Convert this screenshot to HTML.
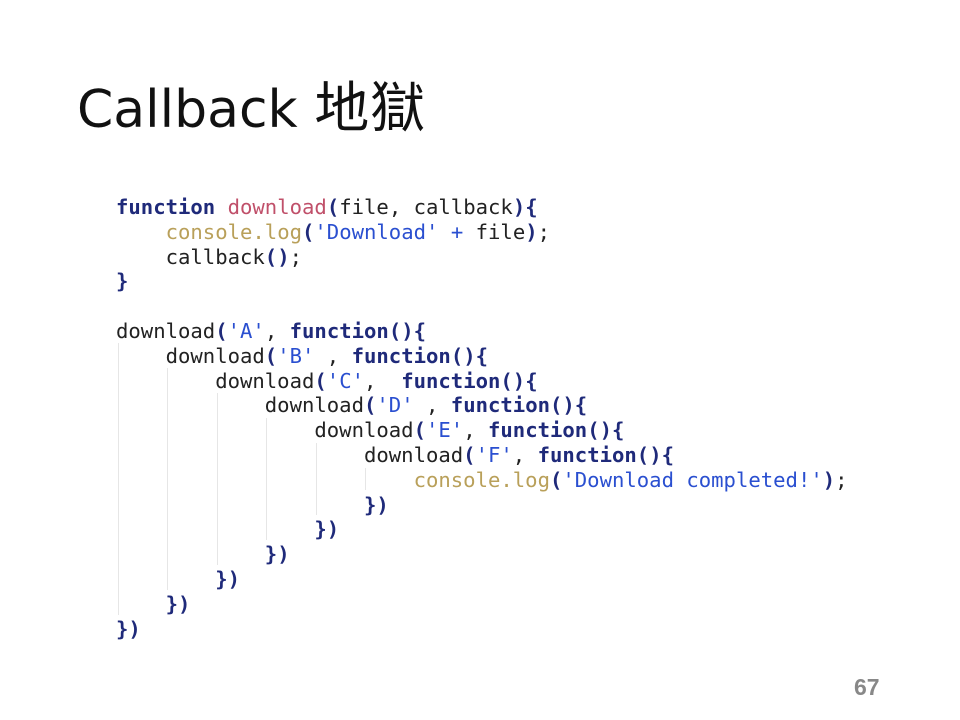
<!DOCTYPE html>
<html><head><meta charset="utf-8"><style>
body{margin:0;width:960px;height:720px;background:#fff;position:relative;overflow:hidden}
.t{position:absolute;left:77px;top:77px;height:52px;font:52px/52px "DejaVu Sans","Noto Sans CJK TC",sans-serif;color:#111;white-space:nowrap}
.t span{font-family:"Noto Sans CJK TC",sans-serif;font-weight:400;font-size:55px;letter-spacing:1px}
.code{position:absolute;left:116px;top:195px;font:20.6px/24.8px "DejaVu Sans Mono",monospace;color:#222;white-space:pre}
.k{color:#1f2a7a;font-weight:bold}.f{color:#c0506a}.c{color:#b9a05a}.s{color:#2a4fd0}.p{color:#1f2a7a;font-weight:bold}
.g{position:absolute;width:1px;background:#e6e6e6}
.n{position:absolute;left:854px;top:674px;font:bold 23px "Liberation Sans",sans-serif;color:#888}
</style></head><body>
<div class="t">Callback <span>地獄</span></div>
<div class="g" style="left:118px;top:343px;height:272px"></div>
<div class="g" style="left:167px;top:368px;height:222px"></div>
<div class="g" style="left:217px;top:393px;height:172px"></div>
<div class="g" style="left:266px;top:418px;height:122px"></div>
<div class="g" style="left:316px;top:443px;height:72px"></div>
<div class="g" style="left:365px;top:468px;height:22px"></div>
<div class="code"><span class="k">function</span> <span class="f">download</span><span class="p">(</span>file, callback<span class="p">){</span>
    <span class="c">console.log</span><span class="p">(</span><span class="s">'Download'</span> <span class="s">+</span> file<span class="p">)</span>;
    callback<span class="p">()</span>;
<span class="p">}</span>

download<span class="p">(</span><span class="s">'A'</span>, <span class="k">function</span><span class="p">(){</span>
    download<span class="p">(</span><span class="s">'B'</span> , <span class="k">function</span><span class="p">(){</span>
        download<span class="p">(</span><span class="s">'C'</span>,  <span class="k">function</span><span class="p">(){</span>
            download<span class="p">(</span><span class="s">'D'</span> , <span class="k">function</span><span class="p">(){</span>
                download<span class="p">(</span><span class="s">'E'</span>, <span class="k">function</span><span class="p">(){</span>
                    download<span class="p">(</span><span class="s">'F'</span>, <span class="k">function</span><span class="p">(){</span>
                        <span class="c">console.log</span><span class="p">(</span><span class="s">'Download completed!'</span><span class="p">)</span>;
                    <span class="p">})</span>
                <span class="p">})</span>
            <span class="p">})</span>
        <span class="p">})</span>
    <span class="p">})</span>
<span class="p">})</span></div>
<div class="n">67</div>
</body></html>
